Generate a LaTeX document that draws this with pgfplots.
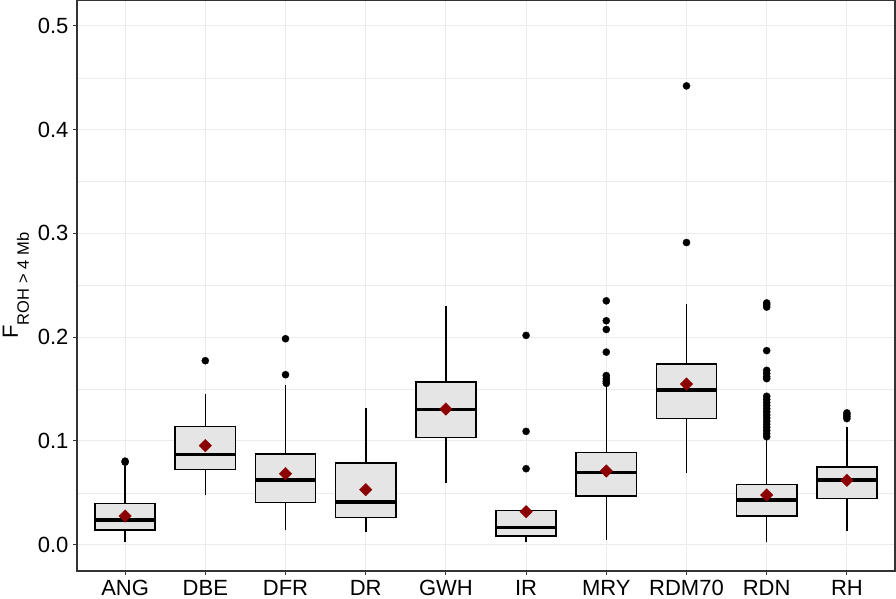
\documentclass[border=0pt]{standalone}
\usepackage{fontspec}
\setmainfont{Liberation Sans}
\usepackage{pgfplots}
\pgfplotsset{compat=1.18}
\definecolor{gridgray}{HTML}{EBEBEB}
\definecolor{boxgray}{HTML}{E5E5E5}
\definecolor{gray20}{HTML}{333333}
\definecolor{meanred}{HTML}{8B0000}
\begin{document}
\begin{tikzpicture}
\begin{axis}[
  name=ax,
  scale only axis,
  width=818pt, height=570.5pt,
  xmin=0.4, xmax=10.6,
  ymin=-0.0254, ymax=0.5245,
  xtick={1,2,3,4,5,6,7,8,9,10},
  xticklabels={ANG,DBE,DFR,DR,GWH,IR,MRY,RDM70,RDN,RH},
  ytick={0,0.1,0.2,0.3,0.4,0.5},
  minor ytick={0.05,0.15,0.25,0.35,0.45},
  yticklabel style={/pgf/number format/fixed, /pgf/number format/fixed zerofill, /pgf/number format/precision=1},
  /pgf/number format/assume math mode=true,
  grid=both,
  major grid style={color=gridgray, line width=1.07pt},
  minor grid style={color=gridgray, line width=0.53pt},
  tick align=outside,
  tick pos=left,
  major tick length=4pt,
  minor tick length=0pt,
  tick style={color=gray20, line width=1.07pt},
  axis line style={color=gray20, line width=1.07pt},
  tick label style={font=\fontsize{22}{26}\selectfont, text=black},
  xticklabel style={yshift=-2pt},
  yticklabel style={xshift=-1pt},
  ylabel={F\raisebox{-11pt}{\fontsize{16.5}{18}\selectfont ROH\hspace{0.3em}>\hspace{0.3em}4 Mb}},
  every axis y label/.style={at={(axis description cs:-0.0746,0.5)}, rotate=90, anchor=center, font=\fontsize{22}{26}\selectfont, text=black},
  unbounded coords=jump,
]
% whiskers: lower whisker -- Q1 and Q3 -- upper whisker
\addplot[black, line width=1.6pt] coordinates {
 (1,0.0022) (1,0.0142) (1,nan) (1,0.0395) (1,0.0760) (1,nan)
 (2,0.0475) (2,0.0723) (2,nan) (2,0.1137) (2,0.1452) (2,nan)
 (3,0.0145) (3,0.0408) (3,nan) (3,0.0874) (3,0.1535) (3,nan)
 (4,0.0119) (4,0.0263) (4,nan) (4,0.0787) (4,0.1317) (4,nan)
 (5,0.0594) (5,0.1034) (5,nan) (5,0.1567) (5,0.2296) (5,nan)
 (6,0.0022) (6,0.0084) (6,nan) (6,0.0330) (6,0.0340) (6,nan)
 (7,0.0048) (7,0.0469) (7,nan) (7,0.0889) (7,0.1525) (7,nan)
 (8,0.0687) (8,0.1214) (8,nan) (8,0.1744) (8,0.2322) (8,nan)
 (9,0.0022) (9,0.0279) (9,nan) (9,0.0581) (9,0.1010) (9,nan)
 (10,0.0135) (10,0.0446) (10,nan) (10,0.0751) (10,0.1134)
};
% boxes Q1..Q3, width 0.75
\addplot[draw=black, fill=boxgray, line width=1.6pt, line cap=rect, line join=miter] coordinates {
 (0.625,0.0142) (1.375,0.0142) (1.375,0.0395) (0.625,0.0395) (0.625,0.0142) (1,nan)
 (1.625,0.0723) (2.375,0.0723) (2.375,0.1137) (1.625,0.1137) (1.625,0.0723) (2,nan)
 (2.625,0.0408) (3.375,0.0408) (3.375,0.0874) (2.625,0.0874) (2.625,0.0408) (3,nan)
 (3.625,0.0263) (4.375,0.0263) (4.375,0.0787) (3.625,0.0787) (3.625,0.0263) (4,nan)
 (4.625,0.1034) (5.375,0.1034) (5.375,0.1567) (4.625,0.1567) (4.625,0.1034) (5,nan)
 (5.625,0.0084) (6.375,0.0084) (6.375,0.0330) (5.625,0.0330) (5.625,0.0084) (6,nan)
 (6.625,0.0469) (7.375,0.0469) (7.375,0.0889) (6.625,0.0889) (6.625,0.0469) (7,nan)
 (7.625,0.1214) (8.375,0.1214) (8.375,0.1744) (7.625,0.1744) (7.625,0.1214) (8,nan)
 (8.625,0.0279) (9.375,0.0279) (9.375,0.0581) (8.625,0.0581) (8.625,0.0279) (9,nan)
 (9.625,0.0446) (10.375,0.0446) (10.375,0.0751) (9.625,0.0751) (9.625,0.0446)
};
% medians
\addplot[black, line width=3.3pt] coordinates {
 (0.625,0.0238) (1.375,0.0238) (1,nan)
 (1.625,0.0867) (2.375,0.0867) (2,nan)
 (2.625,0.0623) (3.375,0.0623) (3,nan)
 (3.625,0.0411) (4.375,0.0411) (4,nan)
 (4.625,0.1300) (5.375,0.1300) (5,nan)
 (5.625,0.0167) (6.375,0.0167) (6,nan)
 (6.625,0.0694) (7.375,0.0694) (7,nan)
 (7.625,0.1490) (8.375,0.1490) (8,nan)
 (8.625,0.0430) (9.375,0.0430) (9,nan)
 (9.625,0.0623) (10.375,0.0623)
};
% outliers
\addplot[only marks, mark=*, mark size=3.6pt, mark options={fill=black, draw=black, line width=0.3pt}] coordinates {
 (1,0.0795) (1,0.0805)
 (2,0.1773)
 (3,0.1638) (3,0.1985)
 (6,0.0732) (6,0.1092) (6,0.2017)
 (7,0.1555) (7,0.1575) (7,0.1600) (7,0.1630) (7,0.1856) (7,0.2074) (7,0.2158) (7,0.2350)
 (8,0.2912) (8,0.4422)
 (9,0.1040) (9,0.1070) (9,0.1100) (9,0.1130) (9,0.1160) (9,0.1190) (9,0.1220) (9,0.1250) (9,0.1280) (9,0.1310) (9,0.1340) (9,0.1370) (9,0.1400) (9,0.1430) (9,0.1600) (9,0.1620) (9,0.1650) (9,0.1680) (9,0.1870) (9,0.2290) (9,0.2310) (9,0.2330)
 (10,0.1215) (10,0.1235) (10,0.1255) (10,0.1270)
};
% means
\addplot[only marks, mark=square*, mark size=4.5pt, mark options={rotate=45, fill=meanred, draw=meanred, line width=0.2pt}]
  coordinates {(1,0.0276) (2,0.0954) (3,0.0684) (4,0.0530) (5,0.1307) (6,0.0318) (7,0.0710) (8,0.1548) (9,0.0479) (10,0.0620)};
\end{axis}
\pgfresetboundingbox
\path (ax.south west) ++(-77pt,-28pt) rectangle ++(896pt,599pt);
\end{tikzpicture}
\end{document}
